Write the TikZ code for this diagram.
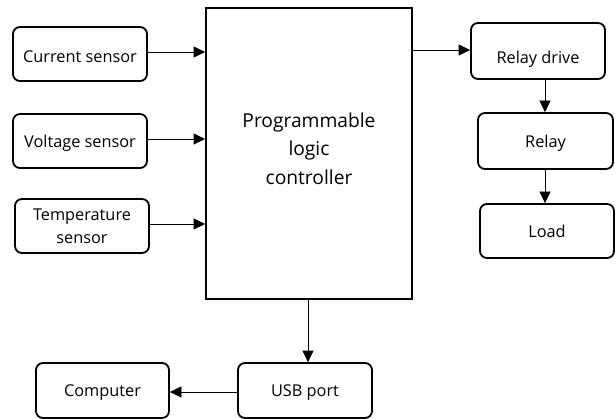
\documentclass[tikz,border=0pt]{standalone}
\usepackage{fontspec}
\setmainfont{Open Sans}
\usetikzlibrary{arrows.meta}
\begin{document}
\begin{tikzpicture}[x=1pt,y=-1pt,
  box/.style={draw,line width=1.8pt,rounded corners=7pt,align=center,inner sep=0pt,text depth=0pt,font=\fontsize{16.3}{23}\selectfont},
  lbl/.style={inner sep=0pt,align=center,text depth=0pt,font=\fontsize{16.3}{23}\selectfont},
  conn/.style={line width=0.8pt,-{Triangle[length=11.5pt,width=11pt]}}]
\useasboundingbox (0,0) rectangle (615,419);
\node[draw,line width=1.8pt,minimum width=206pt,minimum height=291pt,inner sep=0pt] (plc) at (309,153.5) {};
\node[inner sep=0pt,align=center,font=\fontsize{19.2}{28.5}\selectfont] (plctext) at (309,148.5) {Programmable\\logic\\controller};
\node[box,minimum width=134pt,minimum height=54pt] (cur) at (80,54) {};
\node[lbl] (curtext) at ([yshift=-3pt]cur.center) {Current sensor};
\node[box,minimum width=134pt,minimum height=54pt] (vol) at (80,141) {Voltage sensor};
\node[box,minimum width=134pt,minimum height=54pt] (tmp) at (82,226) {Temperature\\sensor};
\node[box,minimum width=134pt,minimum height=56pt] (rd) at (538,51) {};
\node[lbl] (rdtext) at ([yshift=-6pt]rd.center) {Relay drive};
\node[box,minimum width=135pt,minimum height=56pt] (rel) at (545.5,141) {Relay};
\node[box,minimum width=134pt,minimum height=54pt] (load) at (547,231) {Load};
\node[box,minimum width=134pt,minimum height=55pt] (usb) at (305,390.5) {USB port};
\node[box,minimum width=133pt,minimum height=55pt] (comp) at (102.5,390.5) {Computer};
\draw[conn] (cur.east |- 0,52) -- (plc.west |- 0,52);
\draw[conn] (vol.east |- 0,139) -- (plc.west |- 0,139);
\draw[conn] (tmp.east |- 0,224) -- (plc.west |- 0,224);
\draw[conn] (plc.east |- 0,50) -- (rd.west |- 0,50);
\draw[conn] (rd.south -| 545,0) -- (rel.north -| 545,0);
\draw[conn] (rel.south -| 545,0) -- (load.north -| 545,0);
\draw[conn] (plc.south -| 308,0) -- (usb.north -| 308,0);
\draw[conn] (usb.west |- 0,392) -- (comp.east |- 0,392);
\end{tikzpicture}
\end{document}
